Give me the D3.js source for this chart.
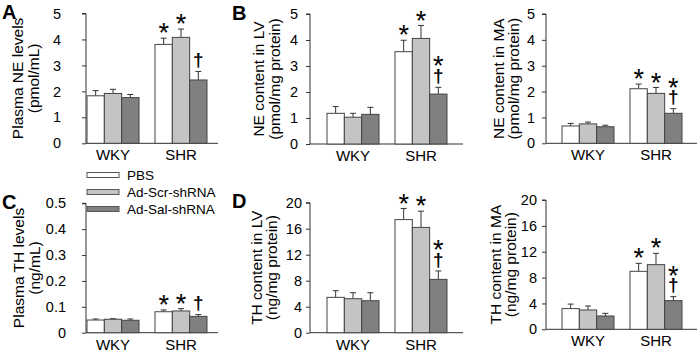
<!DOCTYPE html>
<html>
<head>
<meta charset="utf-8">
<script src="https://cdn.jsdelivr.net/npm/d3@7"></script>
<style>
  body { margin: 0; background: #fff; }
  svg { display: block; font-family: "Liberation Sans", Arial, sans-serif; }
</style>
</head>
<body>
<svg id="chart" width="700" height="352"></svg>
<script>
// groups and treatments
const groups = ['WKY', 'SHR'];
const treatments = ['PBS', 'Ad-Scr-shRNA', 'Ad-Sal-shRNA'];

// means [group][treatment] and SEM (upper bar only)
const plasmaNE = [[1.83, 1.92, 1.76], [3.81, 4.08, 2.44]];
const plasmaNEErr = [[0.20, 0.16, 0.12], [0.24, 0.32, 0.33]];
const lvNE = [[1.18, 1.03, 1.14], [3.55, 4.06, 1.92]];
const lvNEErr = [[0.26, 0.15, 0.27], [0.44, 0.50, 0.26]];
const maNE = [[0.67, 0.75, 0.64], [2.11, 1.93, 1.16]];
const maNEErr = [[0.10, 0.07, 0.06], [0.18, 0.23, 0.18]];
const plasmaTH = [[0.049, 0.052, 0.048], [0.081, 0.084, 0.063]];
const plasmaTHErr = [[0.004, 0.002, 0.005], [0.007, 0.009, 0.007]];
const lvTH = [[5.44, 5.23, 4.92], [17.4, 16.2, 8.2]];
const lvTHErr = [[1.02, 0.92, 1.23], [1.7, 2.5, 1.3]];
const maTH = [[3.2, 2.99, 2.06], [8.97, 10.0, 4.43]];
const maTHErr = [[0.70, 0.61, 0.41], [1.23, 1.75, 0.62]];

// significance marks over SHR bars
const sigPlasma = ['*', '*', '†'];
const sigTissue = ['*', '*', '*†'];

const neTicks = [0, 1, 2, 3, 4, 5];
const thPlasmaTicks = [0, 0.1, 0.2, 0.3, 0.4, 0.5];
const thTissueTicks = [0, 4, 8, 12, 16, 20];

const fills = ['#ffffff', '#c4c4c4', '#808080'];
const ink = '#333';

const svg = d3.select('#chart');

const panels = [
  { mean: plasmaNE, err: plasmaNEErr, sig: sigPlasma, ticks: neTicks, title: ['Plasma NE levels', '(pmol/mL)'],
    ax: 86, top: 13.5, bottom: 143.3, right: 218, bar0: 87, tickPad: 21, t1: 63, t2: 47, letter: 'A' },
  { mean: lvNE, err: lvNEErr, sig: sigTissue, ticks: neTicks, title: ['NE content in LV', '(pmol/mg protein)'],
    ax: 310, top: 14, bottom: 144, right: 463, bar0: 327, tickPad: 8, t1: 46, t2: 30, letter: 'B' },
  { mean: maNE, err: maNEErr, sig: sigTissue, ticks: neTicks, title: ['NE content in MA', '(pmol/mg protein)'],
    ax: 546, top: 14, bottom: 143.3, right: 697, bar0: 562, tickPad: 7, t1: 42, t2: 27 },
  { mean: plasmaTH, err: plasmaTHErr, sig: sigPlasma, ticks: thPlasmaTicks, title: ['Plasma TH levels', '(ng/mL)'],
    ax: 86, top: 203.3, bottom: 332.7, right: 218, bar0: 87, tickPad: 16, t1: 62, t2: 46, letter: 'C' },
  { mean: lvTH, err: lvTHErr, sig: sigTissue, ticks: thTissueTicks, title: ['TH content in LV', '(ng/mg protein)'],
    ax: 310, top: 202.7, bottom: 332.7, right: 463, bar0: 327, tickPad: 4, t1: 48, t2: 33, letter: 'D' },
  { mean: maTH, err: maTHErr, sig: sigTissue, ticks: thTissueTicks, title: ['TH content in MA', '(ng/mg protein)'],
    ax: 546, top: 200, bottom: 329.3, right: 697, bar0: 562, tickPad: 5, t1: 45, t2: 30 }
];

panels.forEach(p => drawPanel(p));

function drawPanel(p) {
  const g = svg.append('g');
  const ymax = p.ticks[p.ticks.length - 1];
  const y = d3.scaleLinear().domain([0, ymax]).range([p.bottom, p.top]);
  const x0 = d3.scaleBand().domain(groups).range([p.bar0, p.bar0 + 120]).paddingInner(0.235);
  const x1 = d3.scaleBand().domain(treatments).range([0, x0.bandwidth()]);

  // y axis
  const yAxis = d3.axisLeft(y).tickValues(p.ticks).tickSize(4).tickPadding(p.tickPad)
    .tickFormat(d => String(+d.toFixed(2)));
  const ya = g.append('g').attr('transform', `translate(${p.ax},0)`).call(yAxis);
  ya.select('.domain').attr('stroke', ink).attr('d', `M-4,${p.top}H0V${p.bottom}`);
  ya.selectAll('.tick line').attr('stroke', ink);
  ya.selectAll('.tick text').attr('fill', '#000').style('font-size', '14.5px').style('font-family', 'inherit');

  // x baseline
  g.append('line').attr('x1', p.ax).attr('x2', p.right)
    .attr('y1', p.bottom).attr('y2', p.bottom).attr('stroke', ink);

  const rows = [];
  groups.forEach((grp, gi) => treatments.forEach((t, ti) => {
    rows.push({ grp, t, ti, v: p.mean[gi][ti], e: p.err[gi][ti], sig: gi === 1 ? p.sig[ti] : '' });
  }));

  const bx = d => x0(d.grp) + x1(d.t);
  const bw = x1.bandwidth();

  // error bars (upper only)
  g.selectAll('.err').data(rows).enter().append('path')
    .attr('fill', 'none').attr('stroke', ink).attr('stroke-width', 1)
    .attr('d', d => {
      const cx = bx(d) + bw / 2;
      return `M${cx},${y(d.v)}V${y(d.v + d.e)}M${cx - 3},${y(d.v + d.e)}H${cx + 3}`;
    });

  g.selectAll('.bar').data(rows).enter().append('rect')
    .attr('x', bx).attr('y', d => y(d.v))
    .attr('width', bw).attr('height', d => p.bottom - y(d.v))
    .attr('fill', d => fills[d.ti]).attr('stroke', '#444').attr('stroke-width', 1);

  // significance marks: star above dagger, one text element per bar
  rows.filter(d => d.sig).forEach(d => {
    const cx = bx(d) + bw / 2;
    const cy = y(d.v + d.e) - 11;
    const t = g.append('text').attr('text-anchor', 'middle').attr('fill', '#000');
    const hasDagger = d.sig.includes('†');
    if (d.sig.includes('*')) {
      const sy = hasDagger ? cy - 16 : cy;
      t.append('tspan').attr('x', cx).attr('y', sy + 0.56 * 27)
        .style('font-size', '27px').text('*');
    }
    if (hasDagger) {
      t.append('tspan').attr('x', cx).attr('y', cy + 0.3 * 19)
        .style('font-size', '19px').style('font-weight', 'bold').text('†');
    }
  });

  // group labels
  g.selectAll('.grp').data(groups).enter().append('text')
    .attr('x', d => x0(d) + x0.bandwidth() / 2).attr('y', p.bottom + 17)
    .attr('text-anchor', 'middle').style('font-size', '15px').attr('fill', '#000')
    .text(d => d);

  // axis title
  const my = (p.top + p.bottom) / 2;
  [p.t1, p.t2].forEach((off, i) => {
    g.append('text')
      .attr('transform', `translate(${p.ax - off},${my}) rotate(-90)`)
      .attr('text-anchor', 'middle').style('font-size', '15.5px').attr('fill', '#000')
      .text(p.title[i]);
  });

  if (p.letter) {
    const lx = p.ax < 200 ? 2 : 232;
    g.append('text').attr('x', lx).attr('y', p.top + 5.5)
      .style('font-size', '20px').style('font-weight', 'bold').attr('fill', '#000')
      .text(p.letter);
  }
}

// legend
const legend = svg.append('g');
treatments.forEach((t, i) => {
  const ly = 175 + i * 17;
  legend.append('rect').attr('x', 87).attr('y', ly - 2.5).attr('width', 32).attr('height', 5)
    .attr('fill', fills[i]).attr('stroke', '#555').attr('stroke-width', 1);
  legend.append('text').attr('x', 127).attr('y', ly + 5)
    .style('font-size', '13.5px').attr('fill', '#000').text(t);
});
</script>
</body>
</html>
